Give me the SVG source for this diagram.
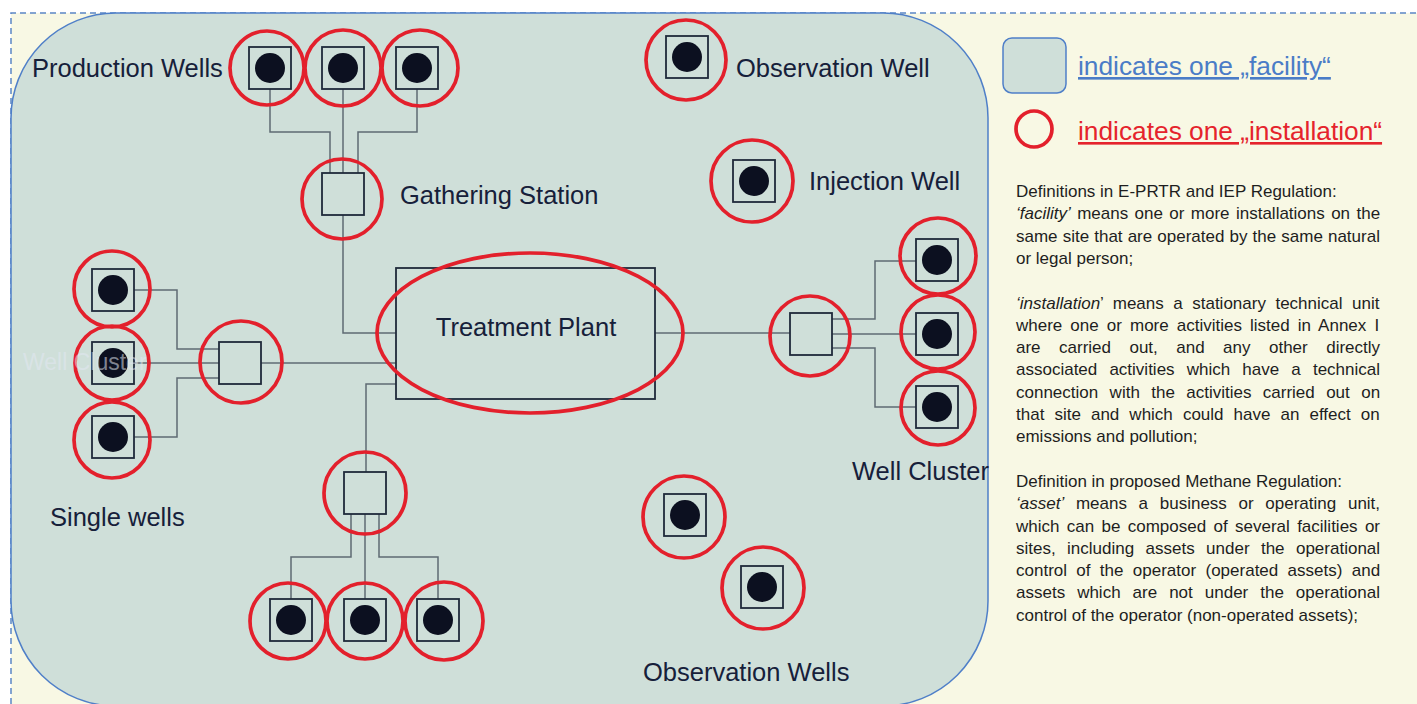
<svg xmlns="http://www.w3.org/2000/svg" xmlns:xlink="http://www.w3.org/1999/xlink" width="1417" height="704" viewBox="0 0 1417 704">
<style>
.inst{fill:none;stroke:#e3202c;stroke-width:3.7}
.sq{fill:none;stroke:#1f2a3a;stroke-width:1.8}
.dot{fill:#0c1020}
.con{fill:none;stroke:#5f6b73;stroke-width:1.5}
.lbl{font-family:"Liberation Sans",Arial,sans-serif;font-size:25.5px;fill:#16203a}
.def{font-family:"Liberation Sans",Arial,sans-serif;font-size:17px;fill:#1e1e1e}
.leg{font-family:"Liberation Sans",Arial,sans-serif;font-size:26.3px;text-decoration:underline}
</style>
<defs>
<g id="well"><rect class="sq" x="-21" y="-21" width="42" height="42"/><circle class="dot" r="15"/></g>
<rect id="hub" class="sq" x="-21" y="-21" width="42" height="42"/>
</defs>
<rect x="0" y="0" width="1417" height="704" fill="#ffffff"/>
<rect x="11" y="13" width="1420" height="700" fill="#f8f8e4"/>
<path d="M11,704 V13 H1417" fill="none" stroke="#5b86c5" stroke-width="1.5" stroke-dasharray="6 4"/>
<rect id="facility" x="11" y="13" width="977" height="693" rx="105" ry="105" fill="#cfdfd9" stroke="#4f7fc8" stroke-width="1.5"/>

<g id="connectors">
<polyline class="con" points="270,89 270,132 330,132 330,173"/>
<polyline class="con" points="343,89 343,173"/>
<polyline class="con" points="417,89 417,132 358,132 358,173"/>
<polyline class="con" points="343,215 343,333 396,333"/>
<polyline class="con" points="134,290 177,290 177,349 219,349"/>
<polyline class="con" points="134,363 219,363"/>
<polyline class="con" points="134,437 177,437 177,378 219,378"/>
<polyline class="con" points="261,363 396,363"/>
<polyline class="con" points="396,384 366,384 366,472"/>
<polyline class="con" points="351,514 351,557 291,557 291,599"/>
<polyline class="con" points="365,514 365,599"/>
<polyline class="con" points="379,514 379,557 438,557 438,599"/>
<polyline class="con" points="655,333 790,333"/>
<polyline class="con" points="832,319 875,319 875,261 916,261"/>
<polyline class="con" points="832,334 916,334"/>
<polyline class="con" points="832,348 875,348 875,407 916,407"/>
</g>

<g id="production-wells">
<text class="lbl" x="32" y="77">Production Wells</text>
<g id="pw1"><use href="#well" x="270" y="68"/><circle class="inst" cx="267" cy="68" r="37"/></g>
<g id="pw2"><use href="#well" x="343" y="68"/><circle class="inst" cx="343" cy="68" r="38"/></g>
<g id="pw3"><use href="#well" x="417" y="68"/><circle class="inst" cx="420" cy="68" r="38"/></g>
</g>
<g id="gathering-station"><use href="#hub" x="343" y="194"/><circle class="inst" cx="342" cy="199" r="40"/><text class="lbl" x="400" y="204">Gathering Station</text></g>
<g id="observation-well"><use href="#well" x="687" y="57"/><circle class="inst" cx="686" cy="60" r="40"/><text class="lbl" x="736" y="77">Observation Well</text></g>
<g id="injection-well"><use href="#well" x="754" y="181"/><circle class="inst" cx="752" cy="181" r="41"/><text class="lbl" x="809" y="190">Injection Well</text></g>
<g id="treatment-plant"><rect class="sq" x="396" y="268" width="259" height="131"/><ellipse class="inst" cx="530" cy="333" rx="153" ry="80"/><text class="lbl" x="526" y="336" text-anchor="middle">Treatment Plant</text></g>

<g id="single-wells">
<g id="sw1"><use href="#well" x="113" y="290"/><circle class="inst" cx="112" cy="289" r="38"/></g>
<g id="sw2"><use href="#well" x="113" y="363"/><circle class="inst" cx="112" cy="363" r="37"/></g>
<g id="sw3"><use href="#well" x="113" y="437"/><circle class="inst" cx="112" cy="440" r="38"/></g>
<text class="lbl" x="50" y="526">Single wells</text>
<text x="23" y="370" class="lbl" style="font-size:23px;fill:#e2e8f2;fill-opacity:0.55">Well Cluster</text>
</g>
<g id="single-hub"><use href="#hub" x="240" y="363"/><circle class="inst" cx="241" cy="362" r="41"/></g>

<g id="bottom-hub"><use href="#hub" x="365" y="493"/><circle class="inst" cx="365" cy="493" r="41"/></g>
<g id="bottom-wells">
<g id="bw1"><use href="#well" x="291" y="620"/><circle class="inst" cx="288" cy="621" r="38"/></g>
<g id="bw2"><use href="#well" x="365" y="620"/><circle class="inst" cx="365" cy="621" r="38"/></g>
<g id="bw3"><use href="#well" x="438" y="620"/><circle class="inst" cx="444" cy="621" r="39"/></g>
</g>

<g id="cluster-hub"><use href="#hub" x="811" y="334"/><circle class="inst" cx="810" cy="336" r="40"/></g>
<g id="well-cluster">
<g id="wc1"><use href="#well" x="937" y="260"/><circle class="inst" cx="938" cy="256" r="38"/></g>
<g id="wc2"><use href="#well" x="937" y="334"/><circle class="inst" cx="938" cy="332" r="37"/></g>
<g id="wc3"><use href="#well" x="937" y="407"/><circle class="inst" cx="938" cy="408" r="37"/></g>
<text class="lbl" x="852" y="480">Well Cluster</text>
</g>

<g id="observation-wells">
<g id="ob1"><use href="#well" x="685" y="515"/><circle class="inst" cx="684" cy="517" r="41"/></g>
<g id="ob2"><use href="#well" x="762" y="587"/><circle class="inst" cx="763" cy="588" r="41"/></g>
<text class="lbl" x="643" y="681">Observation Wells</text>
</g>

<g id="legend">
<rect x="1003" y="38" width="63" height="55" rx="9" fill="#cfdfd9" stroke="#4f7fc8" stroke-width="1.5"/>
<text class="leg" x="1078" y="75" fill="#4a7cc7">indicates one „facility“</text>
<circle class="inst" cx="1034" cy="129" r="18"/>
<text class="leg" x="1078" y="140" fill="#e5232c">indicates one „installation“</text>
</g>

<g id="definitions" class="def">
<text x="1016" y="197">Definitions in E-PRTR and IEP Regulation:</text>
<text x="1016" y="219.3" word-spacing="1.66"><tspan font-style="italic">‘facility’</tspan> means one or more installations on the</text>
<text x="1016" y="241.6" word-spacing="0.37">same site that are operated by the same natural</text>
<text x="1016" y="263.9">or legal person;</text>
<text x="1016" y="308.5" word-spacing="4.77"><tspan font-style="italic">‘installation</tspan>’ means a stationary technical unit</text>
<text x="1016" y="330.8" word-spacing="3.34">where one or more activities listed in Annex I</text>
<text x="1016" y="353.1" word-spacing="13.74">are carried out, and any other directly</text>
<text x="1016" y="375.4" word-spacing="7.41">associated activities which have a technical</text>
<text x="1016" y="397.7" word-spacing="6.66">connection with the activities carried out on</text>
<text x="1016" y="420" word-spacing="5.34">that site and which could have an effect on</text>
<text x="1016" y="442.3">emissions and pollution;</text>
<text x="1016" y="486.9">Definition in proposed Methane Regulation:</text>
<text x="1016" y="509.2" word-spacing="6.97"><tspan font-style="italic">‘asset’</tspan> means a business or operating unit,</text>
<text x="1016" y="531.5" word-spacing="2.6">which can be composed of several facilities or</text>
<text x="1016" y="553.8" word-spacing="6.66">sites, including assets under the operational</text>
<text x="1016" y="576.1" word-spacing="4.61">control of the operator (operated assets) and</text>
<text x="1016" y="598.4" word-spacing="7.27">assets which are not under the operational</text>
<text x="1016" y="620.7">control of the operator (non-operated assets);</text>
</g>
</svg>
